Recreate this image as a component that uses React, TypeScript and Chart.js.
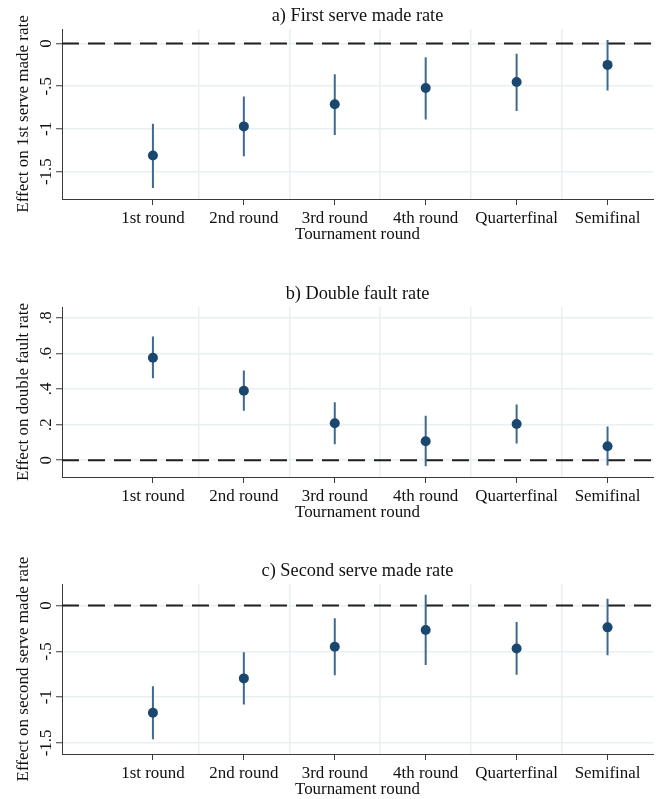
import React, { useEffect, useRef } from "react";
import { Chart, registerables } from "chart.js";

Chart.register(...registerables);

const categories = ["1st round", "2nd round", "3rd round", "4th round", "Quarterfinal", "Semifinal"];
const catPositions = [1, 2, 3, 4, 5, 6];
const gridPositions = [1.5, 2.5, 3.5, 4.5, 5.5];

const firstServeEst = [-1.31, -0.97, -0.71, -0.52, -0.45, -0.25];
const firstServeLo = [-1.69, -1.32, -1.07, -0.89, -0.79, -0.55];
const firstServeHi = [-0.94, -0.62, -0.36, -0.16, -0.12, 0.04];

const doubleFaultEst = [0.575, 0.39, 0.208, 0.107, 0.203, 0.079];
const doubleFaultLo = [0.46, 0.278, 0.09, -0.034, 0.094, -0.03];
const doubleFaultHi = [0.695, 0.503, 0.325, 0.25, 0.313, 0.19];

const secondServeEst = [-1.17, -0.795, -0.45, -0.267, -0.469, -0.238];
const secondServeLo = [-1.46, -1.08, -0.76, -0.648, -0.754, -0.542];
const secondServeHi = [-0.88, -0.51, -0.14, 0.118, -0.18, 0.074];

const yTicksServe = [0, -0.5, -1, -1.5];
const yTickLabelsServe = ["0", "-.5", "-1", "-1.5"];
const yTicksFault = [0, 0.2, 0.4, 0.6, 0.8];
const yTickLabelsFault = ["0", ".2", ".4", ".6", ".8"];

const FONT = "'Liberation Serif', 'Times New Roman', serif";
const TEXT = "#111111";
const AXIS = "#3a3a3a";
const GRID = "#e9f0f2";
const DOT = "#1a476f";
const CI = "#40698f";

const rotatedYLabels = {
  id: "rotatedYLabels",
  afterDraw(chart: any, _args: any, opts: any) {
    const y = chart.scales.y;
    const ctx = chart.ctx;
    ctx.save();
    ctx.font = `16.9px ${FONT}`;
    ctx.fillStyle = TEXT;
    ctx.textAlign = "center";
    ctx.textBaseline = "alphabetic";
    opts.values.forEach((v: number, i: number) => {
      const py = y.getPixelForValue(v);
      ctx.save();
      ctx.translate(opts.x, py);
      ctx.rotate(-Math.PI / 2);
      ctx.fillText(opts.labels[i], 0, 0);
      ctx.restore();
    });
    ctx.restore();
  },
};

type PanelProps = {
  title: string;
  yTitle: string;
  est: number[];
  lo: number[];
  hi: number[];
  yMin: number;
  yMax: number;
  yTicks: number[];
  yTickLabels: string[];
  top: number;
};

function Panel(p: PanelProps) {
  const ref = useRef<HTMLCanvasElement>(null);
  useEffect(() => {
    if (!ref.current) return;
    const ciData: any[] = [];
    catPositions.forEach((x, i) => {
      ciData.push({ x, y: p.lo[i] }, { x, y: p.hi[i] }, { x, y: null });
    });
    const ptData = catPositions.map((x, i) => ({ x, y: p.est[i] }));
    const chart = new Chart(ref.current, {
      type: "line",
      data: {
        datasets: [
          {
            data: ptData,
            showLine: false,
            pointRadius: 5,
            pointHoverRadius: 5,
            pointBackgroundColor: DOT,
            pointBorderWidth: 0,
            order: 0,
          } as any,
          {
            data: ciData,
            borderColor: CI,
            borderWidth: 2,
            pointRadius: 0,
            spanGaps: false,
            order: 1,
          } as any,
          {
            data: [
              { x: 0, y: 0 },
              { x: 6.5, y: 0 },
            ],
            borderColor: "#1f1f1f",
            borderWidth: 2,
            borderDash: [17, 9],
            pointRadius: 0,
            order: 2,
          } as any,
        ],
      },
      options: {
        responsive: false,
        animation: false,
        events: [],
        layout: { padding: { left: 0, right: 6, top: 0, bottom: 0 } },
        plugins: {
          legend: { display: false },
          tooltip: { enabled: false },
          title: {
            display: true,
            text: p.title,
            fullSize: false,
            color: TEXT,
            font: { family: FONT, size: 18.3, weight: "normal" },
            padding: { top: 5.5, bottom: 29 - 5.5 - 18.3 * 1.2 },
          },
          rotatedYLabels: { values: p.yTicks, labels: p.yTickLabels, x: 50.5 },
        } as any,
        scales: {
          x: {
            type: "linear",
            min: 0,
            max: 6.5,
            afterBuildTicks: (s: any) => {
              s.ticks = catPositions.map((v) => ({ value: v }));
            },
            ticks: {
              autoSkip: false,
              maxRotation: 0,
              color: TEXT,
              font: { family: FONT, size: 16.9 },
              padding: 3,
              callback: (v: any) => categories[catPositions.indexOf(Number(v))],
            },
            grid: { drawOnChartArea: false, drawTicks: true, tickLength: 6, tickColor: AXIS, tickWidth: 1 },
            border: { display: true, color: AXIS, width: 1 },
            title: {
              display: true,
              text: "Tournament round",
              color: TEXT,
              font: { family: FONT, size: 16.9 },
              padding: { top: 0, bottom: -0.8 },
            },
            afterFit: (s: any) => {
              s.height = 45;
            },
          },
          x2: {
            type: "linear",
            position: "bottom",
            min: 0,
            max: 6.5,
            afterBuildTicks: (s: any) => {
              s.ticks = gridPositions.map((v) => ({ value: v }));
            },
            ticks: { display: false },
            grid: { color: GRID, lineWidth: 1.5, drawTicks: false },
            border: { display: false },
          },
          y: {
            type: "linear",
            min: p.yMin,
            max: p.yMax,
            afterBuildTicks: (s: any) => {
              s.ticks = p.yTicks.map((v) => ({ value: v }));
            },
            ticks: { display: false },
            grid: { color: GRID, lineWidth: 1.5, drawTicks: true, tickLength: 6, tickColor: AXIS, tickWidth: 1 },
            border: { display: true, color: AXIS, width: 1 },
            title: {
              display: true,
              text: p.yTitle,
              color: TEXT,
              font: { family: FONT, size: 17 },
              padding: { top: 13, bottom: 0 },
            },
            afterFit: (s: any) => {
              s.width = 62;
            },
          },
        } as any,
      },
      plugins: [rotatedYLabels as any],
    });
    return () => chart.destroy();
  }, []);
  return (
    <canvas
      ref={ref}
      width={659}
      height={244}
      style={{ position: "absolute", left: 0, top: p.top, width: 659, height: 244 }}
    />
  );
}

export default function App() {
  return (
    <div style={{ position: "absolute", left: 0, top: 0, width: 659, height: 799, background: "#ffffff" }}>
      <Panel
        title="a) First serve made rate"
        yTitle="Effect on 1st serve made rate"
        est={firstServeEst}
        lo={firstServeLo}
        hi={firstServeHi}
        yMin={-1.82}
        yMax={0.17}
        yTicks={yTicksServe}
        yTickLabels={yTickLabelsServe}
        top={0}
      />
      <Panel
        title="b) Double fault rate"
        yTitle="Effect on double fault rate"
        est={doubleFaultEst}
        lo={doubleFaultLo}
        hi={doubleFaultHi}
        yMin={-0.094}
        yMax={0.86}
        yTicks={yTicksFault}
        yTickLabels={yTickLabelsFault}
        top={278}
      />
      <Panel
        title="c) Second serve made rate"
        yTitle="Effect on second serve made rate"
        est={secondServeEst}
        lo={secondServeLo}
        hi={secondServeHi}
        yMin={-1.62}
        yMax={0.235}
        yTicks={yTicksServe}
        yTickLabels={yTickLabelsServe}
        top={555}
      />
    </div>
  );
}
